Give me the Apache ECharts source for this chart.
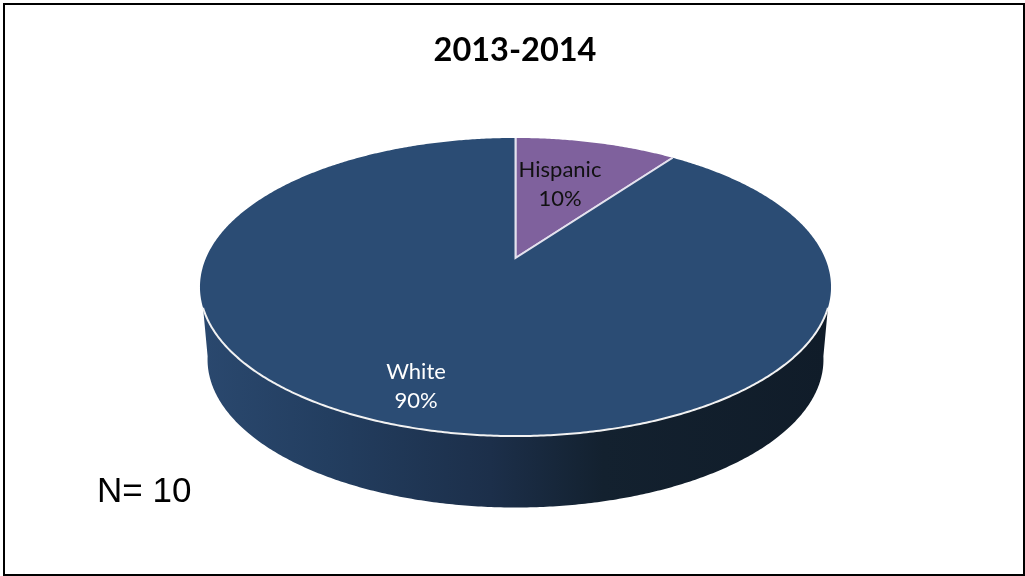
<!DOCTYPE html>
<html>
<head>
<meta charset="utf-8">
<style>html,body{margin:0;padding:0;background:#fff}#c{width:1025px;height:576px}</style>
<script src="https://cdn.jsdelivr.net/npm/echarts@6/dist/echarts.min.js"></script>
</head>
<body>
<div id="c"></div>
<script>
// Data
const titleText = '2013-2014';
const noteText = 'N= 10';
const categories = ['Hispanic', 'White'];
const values = [10, 90];
const percentLabels = ['10%', '90%'];

// Styles and layout
const sliceColors = ['#7F619D', '#2B4C74'];
const labelColors = ['#111111', '#FFFFFF'];
const labelAnchors = [[560, 184], [416, 386]];
const G = { cx: 515.5, cy: 258, a: 309.5, b: 143.4, k: 0.1946, wallDy: 72.5, wallScale: 0.976, midY: 287 };

function topPt(theta) {
  const u = Math.sin(theta), v = -Math.cos(theta), d = 1 - G.k * v;
  return [G.cx + G.a * u / d, G.cy + G.b * v / d];
}
function lowPt(theta) {
  const p = topPt(theta);
  return [G.cx + (p[0] - G.cx) * G.wallScale, G.midY + G.wallDy + (p[1] - G.midY) * 0.993];
}
const rad = d => d * Math.PI / 180;
function arc(fn, from, to) {
  const n = Math.max(2, Math.ceil(Math.abs(to - from) / rad(0.5)));
  const out = [];
  for (let i = 0; i <= n; i++) out.push(fn(from + (to - from) * i / n));
  return out;
}
const total = values.reduce((s, x) => s + x, 0);
function sliceAngles(i) {
  let s = 0;
  for (let j = 0; j < i; j++) s += values[j];
  return [s / total * 2 * Math.PI, (s + values[i]) / total * 2 * Math.PI];
}
const FRONT = [rad(109), rad(251)];
const FRONT_LOW = [rad(100), rad(260)];

function renderSlice(params, api) {
  const i = api.value(0);
  const [a0, a1] = sliceAngles(i);
  const apex = [G.cx, G.cy];
  const rim = arc(topPt, a0, a1);
  const children = [];
  const f0 = Math.max(a0, FRONT[0]), f1 = Math.min(a1, FRONT[1]);
  if (f1 > f0) {
    const wall = arc(topPt, f0, f1).concat(arc(lowPt, Math.min(a1, FRONT_LOW[1]), Math.max(a0, FRONT_LOW[0])));
    children.push({
      type: 'polygon', shape: { points: wall },
      style: { fill: { type: 'linear', x: 0, y: 0, x2: 1, y2: 0, colorStops: [
        { offset: 0, color: '#2A486E' }, { offset: 0.2, color: '#233E60' },
        { offset: 0.46, color: '#1C2F4A' }, { offset: 0.64, color: '#13212F' },
        { offset: 1, color: '#101C29' }] } }
    });
  }
  children.push({ type: 'polygon', shape: { points: [apex].concat(rim) }, style: { fill: sliceColors[i] } });
  if (f1 > f0) {
    children.push({ type: 'polyline', shape: { points: arc(topPt, f0, f1) },
      style: { fill: 'none', stroke: '#F2F2F2', lineWidth: 2 } });
  }
  children.push({ type: 'polyline', shape: { points: [topPt(a0), apex, topPt(a1)] },
    style: { fill: 'none', stroke: '#E4E2EE', lineWidth: 2 } });
  return { type: 'group', children };
}
function renderLabel(params, api) {
  const i = api.value(0);
  return {
    type: 'text',
    style: {
      text: categories[i] + '\n' + percentLabels[i],
      x: labelAnchors[i][0], y: labelAnchors[i][1],
      align: 'center', verticalAlign: 'middle',
      fill: labelColors[i], fontFamily: 'Lato', fontSize: 22, lineHeight: 29
    }
  };
}

const chart = echarts.init(document.getElementById('c'), null, { renderer: 'canvas' });
const rows = categories.map((c, i) => [i, values[i], c]);
chart.setOption({
  animation: false,
  backgroundColor: '#fff',
  title: {
    text: titleText, left: 510, textAlign: 'center', top: 29,
    textStyle: { fontFamily: 'Lato', fontWeight: 'bold', fontSize: 32.5, color: '#000' }
  },
  graphic: [
    { type: 'rect', shape: { x: 4, y: 4, width: 1020, height: 571 },
      style: { fill: 'none', stroke: '#000', lineWidth: 2 }, silent: true },
    { type: 'text', style: { text: noteText, x: 97, y: 492, verticalAlign: 'middle',
      fontFamily: 'Liberation Sans', fontSize: 35, fill: '#000' } }
  ],
  series: [
    { type: 'custom', coordinateSystem: 'none', data: rows, renderItem: renderSlice, z: 2 },
    { type: 'custom', coordinateSystem: 'none', data: rows, renderItem: renderLabel, z: 3 }
  ]
});
</script>
</body>
</html>
